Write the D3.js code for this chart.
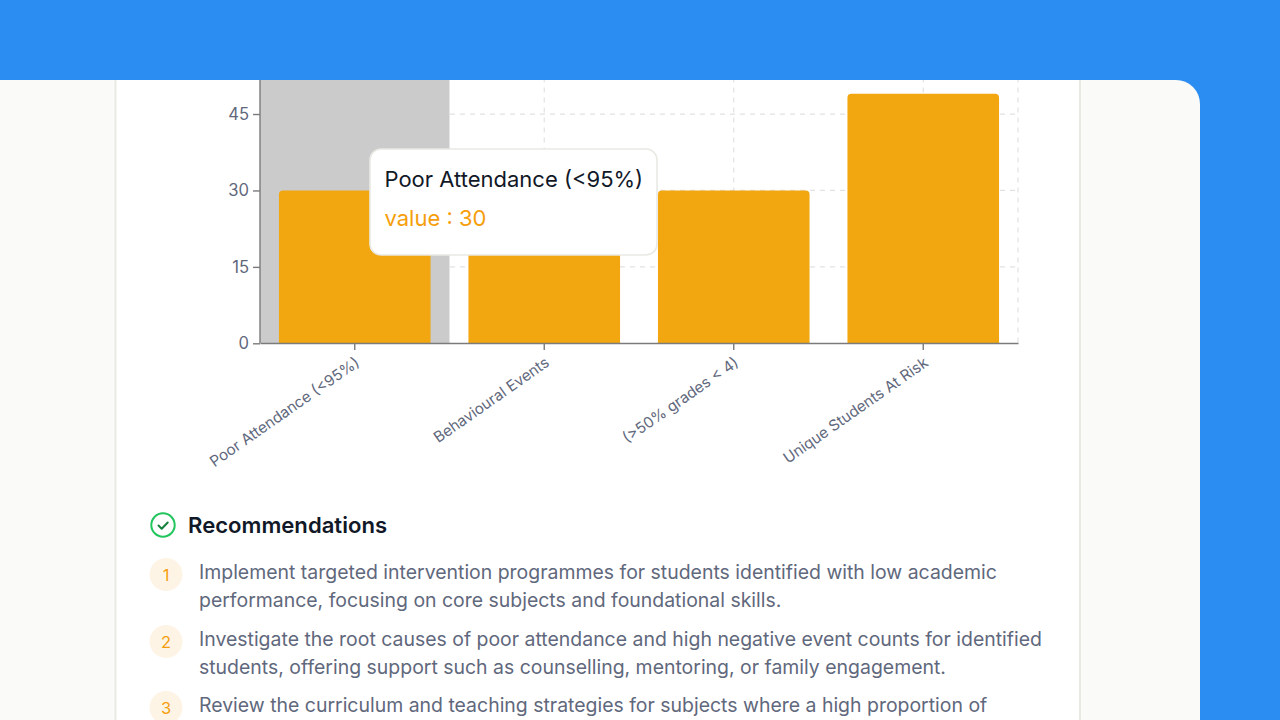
<!DOCTYPE html>
<html>
<head>
<meta charset="utf-8">
<script src="https://cdn.jsdelivr.net/npm/d3@7"></script>
<style>
html,body{margin:0;padding:0;background:#2b8cf1;}
svg{display:block;font-family:Inter,"Noto Sans",sans-serif;}
</style>
</head>
<body>
<svg id="view" width="1280" height="720"></svg>
<script>
const categories = ["Poor Attendance (<95%)", "Behavioural Events", "(>50% grades < 4)", "Unique Students At Risk"];
const values = [30, 25, 30, 49];
const yTicks = [0, 15, 30, 45];
const activeCategory = "Poor Attendance (<95%)";
const recommendations = [
  ["Implement targeted intervention programmes for students identified with low academic",
   "performance, focusing on core subjects and foundational skills."],
  ["Investigate the root causes of poor attendance and high negative event counts for identified",
   "students, offering support such as counselling, mentoring, or family engagement."],
  ["Review the curriculum and teaching strategies for subjects where a high proportion of"]
];
const recommendationY = [[572, 600], [639, 667], [705]];

const svg = d3.select("#view");
const colors = {blue:"#2b8cf1", card:"#fafaf8", line:"#e9e9e4", bar:"#f2a710", amber:"#f59e0b", slate:"#5f687c", ink:"#111827", axis:"#7b7b7b", grid:"#e2e2e2"};

// Page surfaces
svg.append("path").attr("fill",colors.card)
  .attr("d","M0,80H1176A24,24 0 0 1 1200,104V720H0Z");
svg.append("rect").attr("x",115.5).attr("y",70).attr("width",964.5).attr("height",670)
  .attr("fill","#fff").attr("stroke",colors.line).attr("stroke-width",2);

// Chart
const x = d3.scaleBand().domain(categories).range([260,1018]).paddingInner(0.2).paddingOuter(0.1);
const xFull = d3.scaleBand().domain(categories).range([260,1018]);
const y = d3.scaleLinear().domain([0,60]).range([343.3,37.6]);

const chart = svg.append("g");

const grid = chart.append("g").attr("stroke",colors.grid).attr("stroke-width",1.2).attr("stroke-dasharray","5 5").attr("fill","none");
grid.selectAll("line.h").data(yTicks.slice(1)).join("line").attr("class","h")
  .attr("x1",260).attr("x2",1018).attr("y1",d=>y(d)).attr("y2",d=>y(d));
grid.selectAll("line.v").data(categories).join("line").attr("class","v")
  .attr("x1",d=>xFull(d)+xFull.bandwidth()/2).attr("x2",d=>xFull(d)+xFull.bandwidth()/2)
  .attr("y1",y(60)).attr("y2",y(0));
grid.append("line").attr("x1",1018).attr("x2",1018).attr("y1",y(60)).attr("y2",y(0));

// Hover band behind the active bar
chart.append("rect").attr("x",xFull(activeCategory)).attr("width",xFull.bandwidth())
  .attr("y",y(60)).attr("height",y(0)-y(60)).attr("fill","#cbcbcb");

const barPath = d => {
  const l=x(d.c), r=l+x.bandwidth(), t=y(d.v), b=y(0), q=4;
  return `M${l},${b}V${t+q}Q${l},${t} ${l+q},${t}H${r-q}Q${r},${t} ${r},${t+q}V${b}Z`;
};
chart.selectAll("path.bar").data(categories.map((c,i)=>({c,v:values[i]}))).join("path")
  .attr("class","bar").attr("fill",colors.bar).attr("d",barPath);

// Axes
const styleAxis = g => {
  g.selectAll("path,line").attr("stroke",colors.axis).attr("stroke-width",1.4);
  g.selectAll("text").attr("fill",colors.slate).attr("font-size",16.6).attr("font-family","Inter");
};
const yAxisG = chart.append("g").attr("transform","translate(260,0)")
  .call(d3.axisLeft(y).tickValues(yTicks).tickSize(7).tickPadding(4)).call(styleAxis);
yAxisG.select(".domain").attr("d","M0,37V343.3");
const xAxisG = chart.append("g").attr("transform","translate(0,343)")
  .call(d3.axisBottom(xFull).tickSize(7).tickSizeOuter(0)).call(styleAxis);
xAxisG.selectAll("text").attr("font-size",15.2).attr("text-anchor","end")
  .attr("dy",0).attr("y",0)
  .attr("transform","translate(6,22) rotate(-35)");

// Top band of the page sits over the scrolled content
svg.append("rect").attr("width",1280).attr("height",80).attr("fill",colors.blue);

// Tooltip for the active bar
const tip = svg.append("g").attr("transform","translate(370,149)");
tip.append("rect").attr("width",287).attr("height",106).attr("rx",11)
  .attr("fill","#fff").attr("stroke",colors.line).attr("stroke-width",1.6);
tip.append("text").attr("x",14.5).attr("y",38).attr("font-size",22).attr("fill",colors.ink).text(activeCategory);
tip.append("text").attr("x",14.5).attr("y",77).attr("font-size",22).attr("fill","#f59e0b")
  .text(`value : ${values[categories.indexOf(activeCategory)]}`);

// Recommendations heading
const head = svg.append("g");
head.append("circle").attr("cx",163).attr("cy",525).attr("r",11.7).attr("fill","none").attr("stroke","#22c55e").attr("stroke-width",2);
head.append("path").attr("d","M158.5,525.5l3.2,3.2l6,-6.2").attr("fill","none").attr("stroke","#15803d").attr("stroke-width",2).attr("stroke-linecap","round").attr("stroke-linejoin","round");
head.append("text").attr("x",188).attr("y",533).attr("font-size",22.1).attr("font-weight",600).attr("fill",colors.ink).text("Recommendations");

// Numbered list
const items = svg.selectAll("g.item").data(recommendations).join("g").attr("class","item");
items.append("circle").attr("cx",166).attr("cy",(d,i)=>recommendationY[i][0]+2.5).attr("r",16.5).attr("fill","#fef4e6");
items.append("text").attr("x",166).attr("y",(d,i)=>recommendationY[i][0]+8.5).attr("text-anchor","middle")
  .attr("font-size",16.5).attr("fill",colors.amber).text((d,i)=>i+1);
items.each(function(lines,i){
  d3.select(this).selectAll("text.line").data(lines).join("text").attr("class","line")
    .attr("x",199).attr("y",(d,j)=>recommendationY[i][j]+7)
    .attr("font-size",19.45).attr("fill",colors.slate).text(d=>d);
});
</script>
</body>
</html>
